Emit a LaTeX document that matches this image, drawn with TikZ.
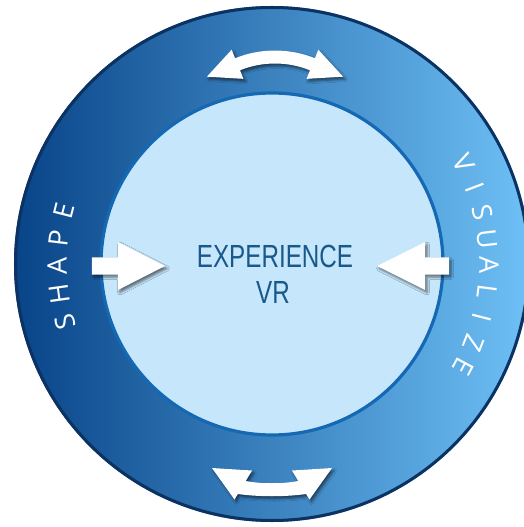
\documentclass[tikz,border=0pt]{standalone}
\usepackage{fontspec}
\setmainfont{Liberation Sans}
\newfontfamily\ringfont{Open Sans}
\usetikzlibrary{shadows.blur}

\definecolor{ringdark}{RGB}{8,68,136}
\definecolor{ringmid}{RGB}{10,112,196}
\definecolor{ringlight}{RGB}{110,192,246}
\definecolor{rimnavy}{RGB}{12,50,98}
\definecolor{corefill}{RGB}{198,230,251}
\definecolor{coreline}{RGB}{20,104,180}
\definecolor{vrblue}{RGB}{24,88,138}

\tikzset{
  whitearrow/.style={fill=white,
    blur shadow={shadow xshift=2pt, shadow yshift=-2.5pt,
      shadow blur radius=2.5pt, shadow opacity=55}},
  ringletter/.style={font=\ringfont\fontsize{27}{27}\selectfont,
    inner sep=0pt, text=white},
  coretext/.style={font=\fontsize{32}{32}\selectfont, text=vrblue,
    xscale=0.757, anchor=base, inner sep=0pt}
}

\begin{document}
\begin{tikzpicture}[x=1pt,y=1pt]
  \useasboundingbox (-272,-263) rectangle (252,264);
  \clip (-272,-263) rectangle (252,264);

% the ring and the core
  \shade[left color=ringdark, middle color=ringmid, right color=ringlight]
    (0,0) circle (258);
  \draw[rimnavy, line width=3] (0,0) circle (256.5);
  \draw[coreline, fill=corefill, line width=3.2] (0,0) circle (171);

% top double arrow
  \begin{scope}[shift={(3,107)}]
    \fill[whitearrow] (68:93.5) arc[start angle=68, end angle=112, radius=93.5]
      -- (112:84.3) -- (130.3:105.3) -- (112:115.7) -- (112:106.5)
      arc[start angle=112, end angle=68, radius=106.5]
      -- (68:115.7) -- (49.7:105.3) -- (68:84.3) -- cycle;
  \end{scope}

% bottom double arrow
  \fill[whitearrow] (-37.5,-235.5) -- (-60,-204) -- (-20,-206.5) -- (-26.3,-217)
    .. controls (-10,-220) and (10,-220) .. (26.3,-217)
    -- (20,-206.5) -- (60,-204) -- (37.5,-235.5) -- (34.2,-230)
    .. controls (12,-233) and (-12,-233) .. (-34.2,-230) -- cycle;

% arrows into the core
  \fill[whitearrow] (-180,-10.5) -- (-154,-10.5) -- (-154,-26) -- (-107,-2)
    -- (-154,22) -- (-154,6.5) -- (-180,6.5) -- cycle;
  \fill[whitearrow] (177,-10.5) -- (153,-10.5) -- (153,-26) -- (105,-2)
    -- (153,22) -- (153,6.5) -- (177,6.5) -- cycle;

% core text
  \node[coretext] (exp) at (3,-4) {EXPERIENCE};
  \node[coretext] (vr) at (1,-39) {VR};

% ring text
  \foreach \ch [count=\i from 0] in {S,H,A,P,E}{
    \pgfmathsetmacro\ang{195.5-7.45*\i}
    \node[ringletter, rotate=\ang-90] (shape\i) at (\ang:215) {\ch};
  }
  \foreach \ch [count=\i from 0] in {V,I,S,U,A,L,I,Z,E}{
    \pgfmathsetmacro\ang{27.7-7*\i}
    \node[ringletter, rotate=\ang-90] (visual\i) at (\ang:217) {\ch};
  }
\end{tikzpicture}
\end{document}
